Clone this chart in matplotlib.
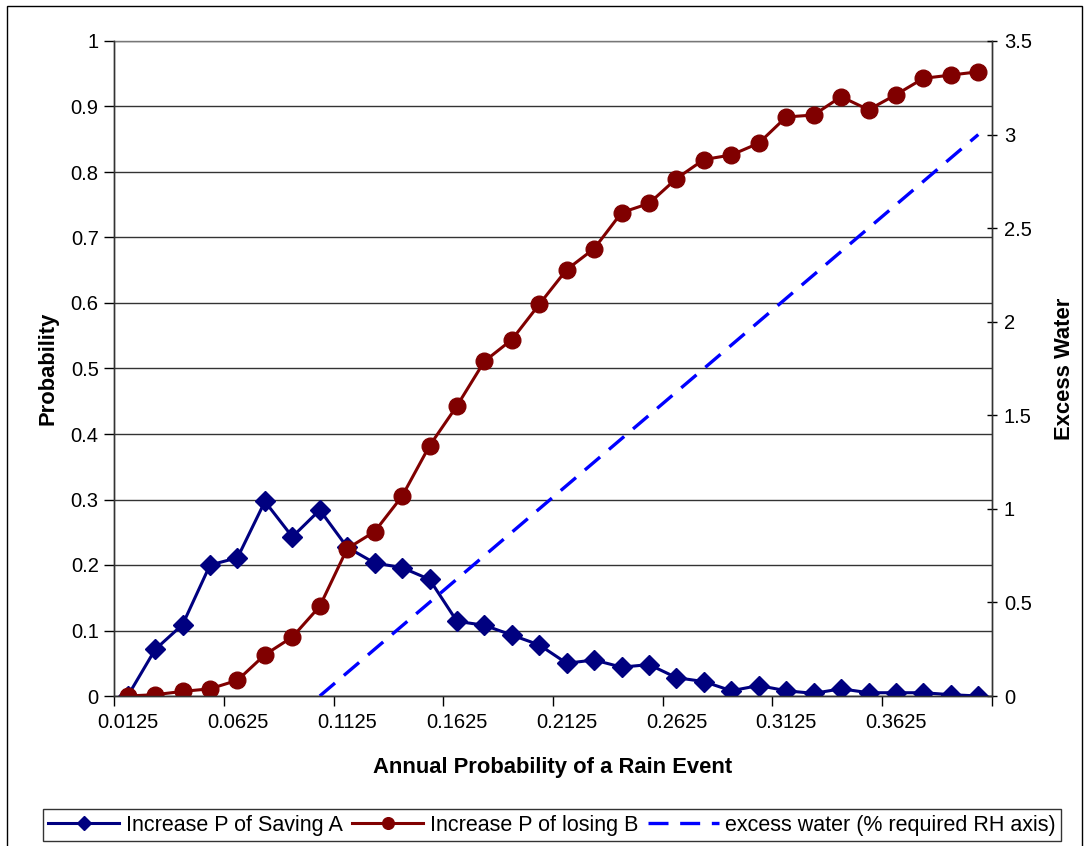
import matplotlib
matplotlib.use('Agg')
import matplotlib.pyplot as plt
from matplotlib.patches import Rectangle

plt.rcParams['font.family'] = ['Liberation Sans', 'DejaVu Sans']

# Annual probability of a rain event (category axis)
rain_prob = ['0.0125', '0.025', '0.0375', '0.05', '0.0625', '0.075', '0.0875', '0.1',
             '0.1125', '0.125', '0.1375', '0.15', '0.1625', '0.175', '0.1875', '0.2',
             '0.2125', '0.225', '0.2375', '0.25', '0.2625', '0.275', '0.2875', '0.3',
             '0.3125', '0.325', '0.3375', '0.35', '0.3625', '0.375', '0.3875', '0.4']

saving_a = [0.0, 0.071, 0.109, 0.200, 0.211, 0.297, 0.243, 0.284,
            0.227, 0.203, 0.196, 0.178, 0.114, 0.108, 0.093, 0.078,
            0.050, 0.055, 0.044, 0.048, 0.028, 0.022, 0.008, 0.016,
            0.008, 0.004, 0.011, 0.005, 0.005, 0.005, 0.002, 0.0]

losing_b = [0.0, 0.002, 0.007, 0.011, 0.024, 0.063, 0.090, 0.137,
            0.225, 0.251, 0.305, 0.382, 0.443, 0.511, 0.544, 0.598,
            0.651, 0.683, 0.738, 0.752, 0.790, 0.819, 0.826, 0.844,
            0.884, 0.887, 0.915, 0.895, 0.918, 0.943, 0.948, 0.953]

# excess water starts at 0.1 (index 7)
excess_start = 7
excess_water = [0.0, 0.125, 0.25, 0.375, 0.5, 0.625, 0.75, 0.875, 1.0,
                1.125, 1.25, 1.375, 1.5, 1.625, 1.75, 1.875, 2.0,
                2.125, 2.25, 2.375, 2.5, 2.625, 2.75, 2.875, 3.0]

x = list(range(len(rain_prob)))
x_excess = x[excess_start:]

fs = 14.5
fig = plt.figure(figsize=(10.87, 8.46), dpi=100)
ax = fig.add_axes([114 / 1087, 150 / 846, 878 / 1087, 655 / 846])
ax2 = ax.twinx()

l1, = ax.plot(x, saving_a, color='#000080', lw=2.2, marker='D', ms=10.5,
              label='Increase P of Saving A', zorder=3)
l2, = ax.plot(x, losing_b, color='#800000', lw=2.2, marker='o', ms=12,
              label='Increase P of losing B', zorder=4)
l3, = ax2.plot(x_excess, excess_water, color='#0000FF', lw=2.4,
               dashes=(6, 3.5), label='excess water (% required RH axis)')

ax.set_xlim(-0.5, len(x) - 0.5)
ax.set_ylim(0, 1)
ax2.set_ylim(0, 3.5)

ax.set_yticks([i / 10 for i in range(11)])
ax.set_yticklabels(['0', '0.1', '0.2', '0.3', '0.4', '0.5', '0.6', '0.7', '0.8', '0.9', '1'])
ax2.set_yticks([0, 0.5, 1, 1.5, 2, 2.5, 3, 3.5])
ax2.set_yticklabels(['0', '0.5', '1', '1.5', '2', '2.5', '3', '3.5'])

# tick marks between categories, labels every 4th category
ax.set_xticks([i - 0.5 for i in range(0, len(x) + 1, 4)])
ax.set_xticklabels([])
ax.set_xticks(x[::4], minor=True)
ax.set_xticklabels(rain_prob[::4], minor=True)
ax.tick_params(axis='x', which='minor', length=0, pad=12, labelsize=fs)
ax.tick_params(axis='x', which='major', length=7, width=1, direction='out')
ax.tick_params(axis='y', length=7, width=1, direction='out', labelsize=fs, pad=4)
ax2.tick_params(axis='y', length=7, width=1, direction='inout', labelsize=fs, pad=5)

ax.yaxis.grid(True, color='#333333', lw=1)
ax.set_axisbelow(True)
for a in (ax, ax2):
    for s in a.spines.values():
        s.set_linewidth(1)
        s.set_color('#333333')
ax2.spines['top'].set_visible(False)
ax.spines['top'].set_color('#777777')

ax.set_xlabel('Annual Probability of a Rain Event', fontsize=15.8, fontweight='bold', labelpad=18)
ax.set_ylabel('Probability', fontsize=15.8, fontweight='bold', labelpad=9)
ax2.set_ylabel('Excess Water', fontsize=15.8, fontweight='bold', labelpad=16)

leg = fig.legend(handles=[l1, l2, l3], loc='center', bbox_to_anchor=(552 / 1087, 1 - 825 / 846),
                 ncol=3, fontsize=15.5, frameon=True, fancybox=False, edgecolor='black',
                 handlelength=3.3, handletextpad=0.3, columnspacing=0.45, borderpad=0.25,
                 markerscale=0.7)
leg.get_frame().set_linewidth(1)

# outer chart border
fig.patches.append(Rectangle((7 / 1087, -0.01), 1075 / 1087, 1 - 6 / 846 + 0.01,
                             transform=fig.transFigure, fill=False, edgecolor='black', lw=1))

plt.savefig('out.png', dpi=100)
